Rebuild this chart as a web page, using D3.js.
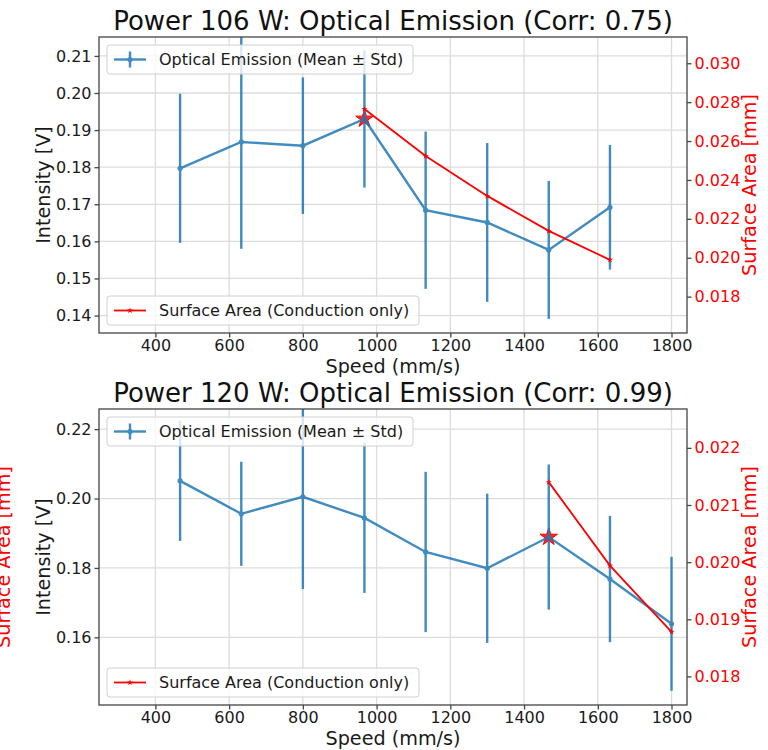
<!DOCTYPE html>
<html><head><meta charset="utf-8">
<script src="https://cdn.jsdelivr.net/npm/d3@7"></script>
<style>body{margin:0;background:#fff}svg{display:block}</style>
</head><body>
<script>
// ---- data ----
const titles = ["Power 106 W: Optical Emission (Corr: 0.75)", "Power 120 W: Optical Emission (Corr: 0.99)"];
const speeds106 = [467, 633, 800, 967, 1133, 1300, 1467, 1633];
const mean106 = [0.1797, 0.1868, 0.1858, 0.1930, 0.1684, 0.1651, 0.1577, 0.1692];
const std106  = [0.0201, 0.0288, 0.0184, 0.0185, 0.0212, 0.0214, 0.0186, 0.0168];
const areaSpeeds106 = [967, 1133, 1300, 1467, 1633];
const area106 = [0.02765, 0.02523, 0.02318, 0.02138, 0.01989];
const speeds120 = [467, 633, 800, 967, 1133, 1300, 1467, 1633, 1800];
const mean120 = [0.2051, 0.1956, 0.2005, 0.1944, 0.1846, 0.1799, 0.1889, 0.1768, 0.1639];
const std120  = [0.0173, 0.0150, 0.0266, 0.0216, 0.0231, 0.0215, 0.0209, 0.0182, 0.0193];
const areaSpeeds120 = [1467, 1633, 1800];
const area120 = [0.02140, 0.01994, 0.01878];
const xTicks = [400, 600, 800, 1000, 1200, 1400, 1600, 1800];
const leftTicks106 = [0.14, 0.15, 0.16, 0.17, 0.18, 0.19, 0.20, 0.21];
const rightTicks106 = [0.018, 0.020, 0.022, 0.024, 0.026, 0.028, 0.030];
const leftTicks120 = [0.16, 0.18, 0.20, 0.22];
const rightTicks120 = [0.018, 0.019, 0.020, 0.021, 0.022];
const legendLabels = ["Optical Emission (Mean \u00b1 Std)", "Surface Area (Conduction only)"];
const axisLabels = {x: "Speed (mm/s)", left: "Intensity [V]", right: "Surface Area [mm]"};

const panels = [
  {title: titles[0], speeds: speeds106, mean: mean106, std: std106, aS: areaSpeeds106, area: area106,
   lt: leftTicks106, rt: rightTicks106, lfmt: ".2f", rfmt: ".3f",
   top: 37, bottom: 333, ld: [0.1353, 0.2151], rd: [0.01613, 0.03135], star: 967, ghost: false},
  {title: titles[1], speeds: speeds120, mean: mean120, std: std120, aS: areaSpeeds120, area: area120,
   lt: leftTicks120, rt: rightTicks120, lfmt: ".2f", rfmt: ".3f",
   top: 409, bottom: 705, ld: [0.1405, 0.2258], rd: [0.0175, 0.02268], star: 1467, ghost: true}
];

const W = 768, H = 750, L = 99, R = 687;
const FONT = "DejaVu Sans, sans-serif";
const BLUE = "#1f77b4", RED = "#ff0000", TXT = "#1a1a1a";

const svg = d3.select("body").append("svg").attr("width", W).attr("height", H)
  .style("font-family", FONT);

const x = d3.scaleLinear().domain([247, 1842]).range([L, R]);

panels.forEach((p, i) => {
  const yl = d3.scaleLinear().domain(p.ld).range([p.bottom, p.top]);
  const yr = d3.scaleLinear().domain(p.rd).range([p.bottom, p.top]);
  const g = svg.append("g");
  const clipId = "clip" + i;
  svg.append("clipPath").attr("id", clipId).append("rect")
    .attr("x", L).attr("y", p.top).attr("width", R - L).attr("height", p.bottom - p.top);

  // grid
  const grid = g.append("g").attr("stroke", "#dcdcdc").attr("stroke-width", 1.3);
  xTicks.forEach(t => grid.append("line").attr("x1", x(t)).attr("x2", x(t)).attr("y1", p.top).attr("y2", p.bottom));
  p.lt.forEach(t => grid.append("line").attr("x1", L).attr("x2", R).attr("y1", yl(t)).attr("y2", yl(t)));

  const plot = g.append("g").attr("clip-path", `url(#${clipId})`);
  // star highlight
  const si = p.speeds.indexOf(p.star);
  plot.append("path").attr("d", d3.symbol(d3.symbolStar, 95)())
    .attr("transform", `translate(${x(p.star)},${yl(p.mean[si])})`)
    .attr("fill", RED).attr("fill-opacity", 0.85).attr("stroke", RED).attr("stroke-width", 1);
  // error bars
  const blue = plot.append("g").attr("opacity", 0.85);
  p.speeds.forEach((s, k) => {
    blue.append("line").attr("x1", x(s)).attr("x2", x(s))
      .attr("y1", yl(p.mean[k] - p.std[k])).attr("y2", yl(p.mean[k] + p.std[k]))
      .attr("stroke", BLUE).attr("stroke-width", 2.4);
  });
  blue.append("path").attr("d", d3.line().x((d, k) => x(p.speeds[k])).y(d => yl(d))(p.mean))
    .attr("fill", "none").attr("stroke", BLUE).attr("stroke-width", 2.4);
  p.speeds.forEach((s, k) => blue.append("circle").attr("cx", x(s)).attr("cy", yl(p.mean[k])).attr("r", 2.6).attr("fill", BLUE));

  // red line
  const red = plot.append("g");
  red.append("path").attr("d", d3.line().x((d, k) => x(p.aS[k])).y(d => yr(d))(p.area))
    .attr("fill", "none").attr("stroke", RED).attr("stroke-width", 1.8);
  p.aS.forEach((s, k) => red.append("path").attr("d", d3.symbol(d3.symbolStar, 12)())
    .attr("transform", `translate(${x(s)},${yr(p.area[k])})`).attr("fill", RED));

  // spines
  g.append("rect").attr("x", L).attr("y", p.top).attr("width", R - L).attr("height", p.bottom - p.top)
    .attr("fill", "none").attr("stroke", "#444").attr("stroke-width", 1.3);

  // axes
  const ax = g.append("g").attr("transform", `translate(0,${p.bottom})`)
    .call(d3.axisBottom(x).tickValues(xTicks).tickSize(4.5).tickPadding(2).tickFormat(d3.format("d")));
  const axl = g.append("g").attr("transform", `translate(${L},0)`)
    .call(d3.axisLeft(yl).tickValues(p.lt).tickSize(4.5).tickPadding(3).tickFormat(d3.format(p.lfmt)));
  const axr = g.append("g").attr("transform", `translate(${R},0)`)
    .call(d3.axisRight(yr).tickValues(p.rt).tickSize(4.5).tickPadding(3).tickFormat(d3.format(p.rfmt)));
  [ax, axl, axr].forEach(a => {
    a.select(".domain").remove();
    a.selectAll(".tick line").attr("stroke", "#444").attr("stroke-width", 1.3);
    a.selectAll(".tick text").attr("font-size", 16).attr("font-family", FONT).attr("fill", TXT);
  });
  axr.selectAll(".tick text").attr("fill", RED);

  // labels
  g.append("text").attr("x", (L + R) / 2).attr("y", p.top - 7).attr("text-anchor", "middle")
    .attr("font-size", 26).attr("fill", "#111").text(p.title);
  g.append("text").attr("x", (L + R) / 2).attr("y", p.bottom + 40).attr("text-anchor", "middle")
    .attr("font-size", 19.2).attr("fill", TXT).text(axisLabels.x);
  const cy = (p.top + p.bottom) / 2;
  g.append("text").attr("transform", `translate(50,${cy}) rotate(-90)`).attr("text-anchor", "middle")
    .attr("font-size", 19.2).attr("fill", TXT).text(axisLabels.left);
  g.append("text").attr("transform", `translate(756,${cy}) rotate(-90)`).attr("text-anchor", "middle")
    .attr("font-size", 19.2).attr("fill", RED).text(axisLabels.right);
  if (p.ghost) {
    g.append("text").attr("transform", `translate(10,${cy}) rotate(-90)`).attr("text-anchor", "middle")
      .attr("font-size", 19.2).attr("fill", RED).text(axisLabels.right);
  }

  // legends
  const legW = [306, 312];
  const legY = [p.top + 8, p.bottom - 8 - 29];
  legendLabels.forEach((lab, j) => {
    const lg = g.append("g").attr("transform", `translate(${L + 8},${legY[j]})`);
    lg.append("rect").attr("width", legW[j]).attr("height", 29).attr("rx", 3)
      .attr("fill", "#fff").attr("fill-opacity", 0.8).attr("stroke", "#d0d0d0").attr("stroke-width", 1);
    const hy = 14.5;
    if (j === 0) {
      const hg = lg.append("g").attr("opacity", 0.85);
      hg.append("line").attr("x1", 7).attr("x2", 39).attr("y1", hy).attr("y2", hy).attr("stroke", BLUE).attr("stroke-width", 2.4);
      hg.append("line").attr("x1", 23).attr("x2", 23).attr("y1", hy - 8).attr("y2", hy + 8).attr("stroke", BLUE).attr("stroke-width", 2.4);
      hg.append("circle").attr("cx", 23).attr("cy", hy).attr("r", 2.6).attr("fill", BLUE);
    } else {
      lg.append("line").attr("x1", 7).attr("x2", 39).attr("y1", hy).attr("y2", hy).attr("stroke", RED).attr("stroke-width", 1.8);
      lg.append("path").attr("d", d3.symbol(d3.symbolStar, 12)()).attr("transform", `translate(23,${hy})`).attr("fill", RED);
    }
    lg.append("text").attr("x", 52).attr("y", hy).attr("dy", "0.35em").attr("font-size", 16).attr("fill", TXT).text(lab);
  });
});
</script>
</body></html>
